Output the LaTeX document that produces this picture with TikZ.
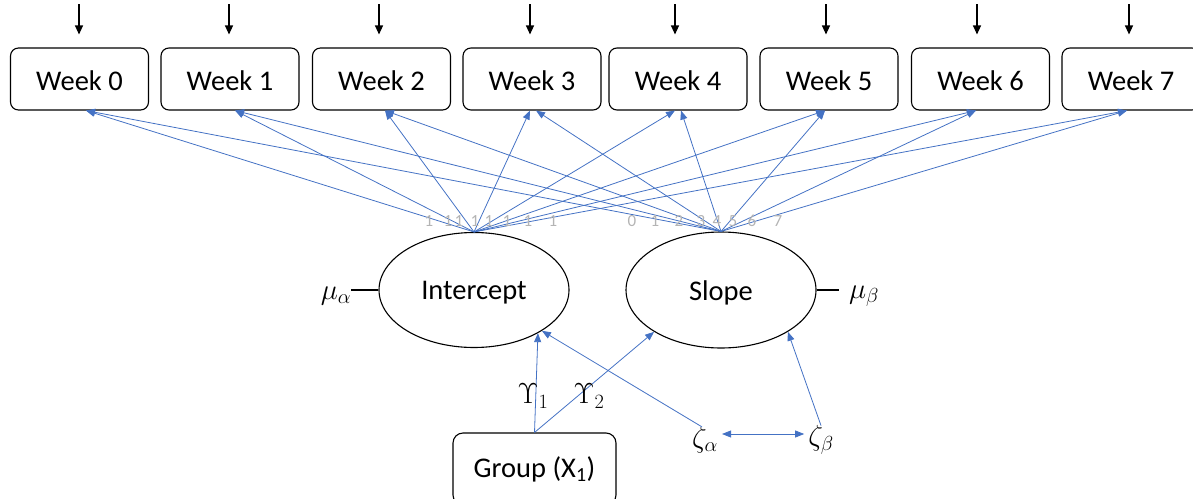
\RequirePackage{fix-cm}
\documentclass[tikz,border=0pt]{standalone}
\usepackage{fontspec}
\setmainfont{Carlito}
\usetikzlibrary{arrows.meta,shapes.geometric}
\definecolor{semblue}{RGB}{68,114,196}
\definecolor{loadgray}{RGB}{180,180,180}
\newcommand{\lowered}[2]{\raisebox{-#1}[\height][\depth]{#2}}
\begin{document}
\begin{tikzpicture}[x=1pt,y=-1pt,
  txt/.style={font=\fontsize{28.5}{33}\selectfont},
  week/.style={txt,draw,line width=1.1pt,rounded corners=8pt,minimum width=138pt,minimum height=62pt,inner sep=0pt},
  latent/.style={txt,draw,line width=1.1pt,ellipse,inner sep=0pt},
  observed/.style={txt,draw,line width=1.1pt,rounded corners=10pt,minimum width=163pt,minimum height=72pt,inner sep=0pt},
  mathlbl/.style={font=\fontsize{29}{33}\selectfont,inner sep=0pt},
  load/.style={font=\fontsize{17}{20}\selectfont,text=loadgray,inner sep=0pt},
  path/.style={semblue,line width=0.8pt,-{Triangle[length=9pt,width=7pt]}},
  both/.style={semblue,line width=0.8pt,{Triangle[length=9pt,width=7pt]}-{Triangle[length=9pt,width=7pt]}},
  err/.style={line width=1.2pt,-{Triangle[length=9pt,width=8pt]}},
  anchorline/.style={line width=1.1pt}]
\useasboundingbox (0,0) rectangle (1193,498);
\clip (0,0) rectangle (1193,498);

% observed weekly measures
\foreach \i/\cx in {0/79.5,1/230,2/381.5,3/532,4/678,5/829,6/980.5,7/1131}
  \node[week] (w\i) at (\cx,79) {\lowered{1.5pt}{Week \i}};

% residual arrows into each week
\foreach \i/\dx in {0/-0.5,1/-1,2/-2.5,3/-2,4/-3,5/-3,6/-3.5,7/-2}
  \draw[err] ([xshift=\dx pt,yshift=43pt]w\i.north) -- ([xshift=\dx pt,yshift=13pt]w\i.north);

% growth factors
\node[latent,minimum width=190pt,minimum height=115pt] (int) at (474,290) {\lowered{3pt}{Intercept}};
\node[latent,minimum width=190pt,minimum height=116pt] (slp) at (721,290) {\lowered{3pt}{Slope}};

% factor loadings
\foreach \i/\dx in {0/6.5,1/5,2/3.5,3/-2,4/-3,5/-4,6/-4.5,7/-4}
  \draw[path] (int.north) -- ([xshift=\dx pt]w\i.south);
\foreach \i/\dx in {0/6.5,1/5,2/3.5,3/4,4/3,5/-4,6/-4.5,7/-4}
  \draw[path] (slp.north) -- ([xshift=\dx pt]w\i.south);

% loading values
\foreach \k/\lx in {0/429,1/448,2/459,3/475,4/489,5/507,6/528,7/553}
  \node[load] (li\k) at (\lx,221) {1};
\foreach \k/\lx in {0/632,1/655,2/679,3/701,4/717,5/733,6/752,7/778}
  \node[load] (ls\k) at (\lx,221) {\k};

% factor means
\node[mathlbl] (mua) at (336,296) {$\mu_\alpha$};
\node[mathlbl] (mub) at (864,296) {$\mu_\beta$};
\draw[anchorline] (int.west) -- ++(-27,0) coordinate (muaend);
\draw[anchorline] (slp.east) -- ++(22,0) coordinate (mubend);

% covariate
\node[observed] (grp) at (534.5,469) {Group (X\textsubscript{1})};
\draw[path] (grp.north) -- (int.-34);
\draw[path] (grp.north) -- (slp.-148);
\node[mathlbl] (g1) at (533,396) {$\Upsilon_1$};
\node[mathlbl] (g2) at (589,396) {$\Upsilon_2$};

% disturbances
\node[mathlbl] (za) at (705,440) {$\zeta_\alpha$};
\node[mathlbl] (zb) at (821,440) {$\zeta_\beta$};
\draw[path] ([xshift=-3pt]za.north) -- (int.-31);
\draw[path] (zb.north) -- (slp.-32);
\draw[both] ([xshift=4pt,yshift=6pt]za.east) -- ([xshift=-4pt,yshift=6pt]zb.west);
\end{tikzpicture}
\end{document}
